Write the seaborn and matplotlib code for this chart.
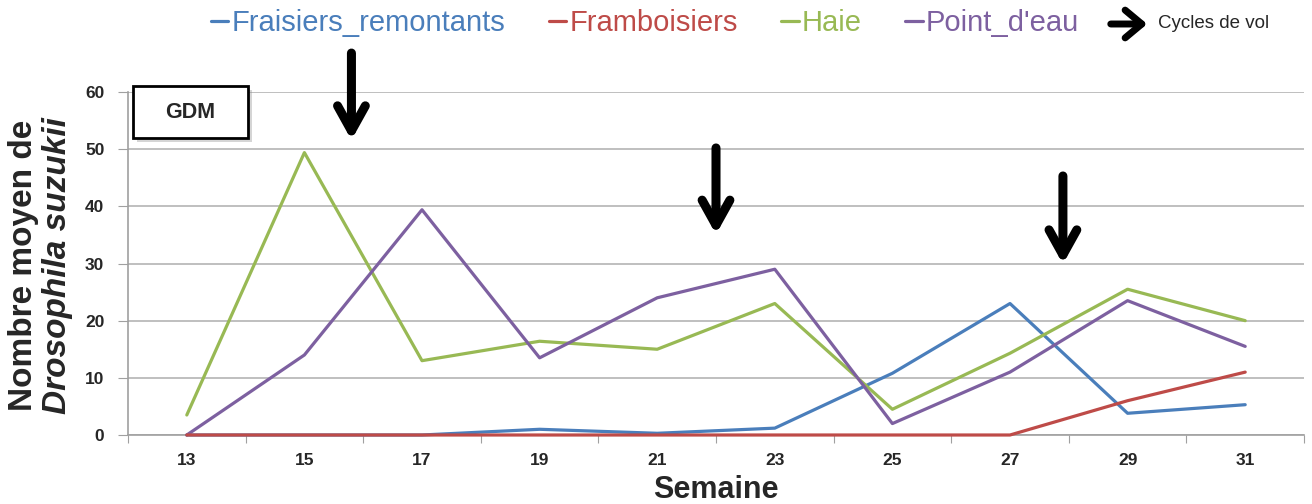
import numpy as np
import pandas as pd
import seaborn as sns
import matplotlib.pyplot as plt
from matplotlib.patches import Rectangle
import matplotlib.patheffects as pe

semaines = [13, 15, 17, 19, 21, 23, 25, 27, 29, 31]
fraisiers = [0, 0, 0, 1.0, 0.3, 1.2, 10.8, 23, 3.8, 5.3]
framboisiers = [0, 0, 0, 0, 0, 0, 0, 0, 6, 11]
haie = [3.5, 49.4, 13, 16.4, 15, 23, 4.5, 14.3, 25.5, 20]
point_eau = [0, 14, 39.4, 13.5, 24, 29, 2, 11, 23.5, 15.5]

sites = ["Fraisiers_remontants", "Framboisiers", "Haie", "Point_d'eau"]
colors = ["#4A7EBB", "#BE4B48", "#98B954", "#7D60A0"]

# flight cycle arrows: (semaine, y top, y tip)
arrows = [(15.8, 67.3, 51.1), (22.0, 50.7, 34.6), (27.9, 45.8, 29.4)]

df = pd.DataFrame({
    "Semaine": semaines * 4,
    "Nombre": fraisiers + framboisiers + haie + point_eau,
    "Site": np.repeat(sites, len(semaines)),
})

sns.set_style("white")
plt.rcParams["font.family"] = ["Liberation Sans", "DejaVu Sans"]

fig = plt.figure(figsize=(13.12, 5.04), dpi=100)
ax = fig.add_axes([128 / 1312, 1 - 435 / 504, (1304 - 128) / 1312, (435 - 92) / 504])

sns.lineplot(data=df, x="Semaine", y="Nombre", hue="Site", palette=colors,
             linewidth=2.3, ax=ax, errorbar=None)
# lines sit on top of the axis, red drawn over blue at zero
for ln, z in zip(ax.lines, [3.1, 3.4, 3.2, 3.3]):
    ln.set_clip_on(False)
    ln.set_zorder(z)

ax.set_xlim(12, 32)
ax.set_ylim(0, 60)
ax.set_yticks(range(0, 61, 10))
ax.set_xticks(range(12, 33, 2))
ax.set_xticklabels([])
ax.set_xticks(semaines, minor=True)
ax.set_xticklabels([str(s) for s in semaines], minor=True)
ax.tick_params(axis="x", which="major", length=6, color="#A0A0A0", direction="out", bottom=True)
ax.tick_params(axis="x", which="minor", length=0, pad=13, labelsize=12.5)
ax.tick_params(axis="y", length=7, color="#A0A0A0", direction="out", left=True, pad=10, labelsize=12.5)
for lab in ax.get_xticklabels(minor=True) + ax.get_yticklabels():
    lab.set_fontweight("bold")

ax.grid(axis="y", color="#B4B4B4", linewidth=1.2)
ax.grid(axis="x", visible=False)
for s in ["top", "right"]:
    ax.spines[s].set_visible(False)
for s in ["left", "bottom"]:
    ax.spines[s].set_color("#A0A0A0")
    ax.spines[s].set_linewidth(1.2)
ax.set_xlabel("")
ax.set_ylabel("")

for x, ytop, ytip in arrows:
    ax.annotate("", xy=(x, ytip), xytext=(x, ytop), annotation_clip=False,
                arrowprops=dict(arrowstyle="->, head_length=0.9, head_width=0.5",
                                lw=6.5, color="black", mutation_scale=20))

# GDM box
box = Rectangle((133 / 1312, 1 - 138 / 504), 115 / 1312, 52 / 504, transform=fig.transFigure,
                facecolor="white", edgecolor="black", linewidth=2, zorder=5)
box.set_path_effects([pe.SimplePatchShadow(offset=(3, -3), shadow_rgbFace="#888888", alpha=0.35),
                      pe.Normal()])
fig.patches.append(box)
fig.text(190 / 1312, 1 - 113 / 504, "GDM", ha="center", va="center", fontsize=15.5,
         fontweight="bold", zorder=6)

# axis labels
fig.text(24 / 1312, 1 - 265 / 504, "Nombre moyen de", rotation=90, ha="center", va="center",
         fontsize=24, fontweight="bold")
fig.text(58 / 1312, 1 - 266 / 504, "Drosophila suzukii", rotation=90, ha="center", va="center",
         fontsize=24, fontweight="bold", style="italic")
fig.text(716 / 1312, 1 - 490 / 504, "Semaine", ha="center", va="center",
         fontsize=22, fontweight="bold")

# legend
handles, labels = ax.get_legend_handles_labels()
ax.get_legend().remove()
fig.legend(handles, labels, loc="center", bbox_to_anchor=(645 / 1312, 1 - 23 / 504), ncol=4,
           frameon=False, fontsize=21, handlelength=0.6, handletextpad=0.1,
           columnspacing=1.5, labelcolor="linecolor")
ax.annotate("", xy=(1150 / 1312, 1 - 24 / 504), xytext=(1108 / 1312, 1 - 24 / 504),
            xycoords="figure fraction", textcoords="figure fraction", annotation_clip=False,
            arrowprops=dict(arrowstyle="->, head_length=0.6, head_width=0.5",
                            lw=5, color="black", mutation_scale=20))
fig.text(1158 / 1312, 1 - 24 / 504, "Cycles de vol", ha="left", va="center", fontsize=13.5)

fig.savefig("out.png", dpi=100)
